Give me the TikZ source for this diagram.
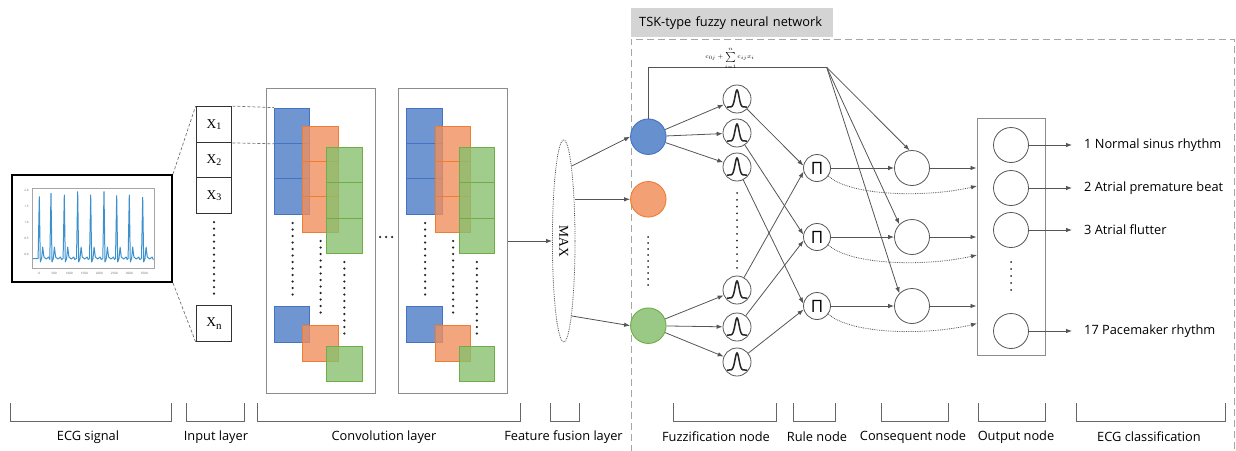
\documentclass[tikz,border=0pt]{standalone}
\usepackage{fontspec}
\setmainfont{Open Sans}
\newfontfamily\serifX{Liberation Serif}
\usetikzlibrary{arrows.meta,shapes.geometric}
\definecolor{blueF}{RGB}{76,124,199}
\definecolor{blueE}{RGB}{68,114,196}
\definecolor{oranF}{RGB}{240,143,92}
\definecolor{oranE}{RGB}{237,125,49}
\definecolor{greenF}{RGB}{136,192,111}
\definecolor{greenE}{RGB}{112,173,71}
\definecolor{lineG}{RGB}{85,85,85}
\definecolor{frameG}{RGB}{140,140,140}
\definecolor{ecgB}{RGB}{60,145,205}
\definecolor{titleG}{RGB}{212,212,212}
\begin{document}
\begin{tikzpicture}[x=1pt,y=-1pt,
  arr/.style={-{Latex[length=6pt,width=4.5pt]}, draw=lineG, line width=0.8pt},
  darr/.style={-{Latex[length=6pt,width=4.5pt]}, draw=lineG, line width=0.8pt, densely dotted},
  cellB/.style={rectangle, draw=blueE, fill=blueF, fill opacity=0.8, line width=0.9pt, minimum size=35.3pt, inner sep=0pt},
  cellO/.style={rectangle, draw=oranE, fill=oranF, fill opacity=0.8, line width=0.9pt, minimum size=35.3pt, inner sep=0pt},
  cellG/.style={rectangle, draw=greenE, fill=greenF, fill opacity=0.8, line width=0.9pt, minimum size=35.3pt, inner sep=0pt},
  inbox/.style={rectangle, draw=black!80, line width=1.3pt, minimum size=35.5pt, inner sep=0pt, font=\serifX\fontsize{13.5}{13.5}\selectfont},
  convbox/.style={rectangle, draw=frameG, line width=1pt, minimum width=109pt, minimum height=305pt, inner sep=0pt},
  dotcol/.style={line width=2.5pt, line cap=round, dash pattern=on 0pt off 6.5pt, black!85},
  fz/.style={circle, draw=lineG, line width=0.8pt, fill=white, minimum size=28pt, inner sep=0pt,
    path picture={\draw[line width=1.5pt, black!85, shift={(path picture bounding box.center)}]
      plot[domain=-10:10, samples=51, smooth] (\x, {8-17*exp(-\x*\x/8)});}},
  rl/.style={circle, draw=lineG, line width=0.8pt, fill=white, minimum size=27pt, inner sep=0pt, font=\fontsize{17}{17}\selectfont},
  cq/.style={circle, draw=lineG, line width=0.8pt, fill=white, minimum size=35pt, inner sep=0pt},
  fnc/.style={circle, line width=0.9pt, minimum size=35.5pt, inner sep=0pt},
  brk/.style={draw=black!60, line width=0.8pt},
  blab/.style={font=\fontsize{12.8}{14}\selectfont, inner sep=0pt},
  rlab/.style={font=\fontsize{12.8}{14}\selectfont, inner sep=0pt, anchor=west},
  tick/.style={font=\fontsize{3}{3}\selectfont, text=black!60, inner sep=0pt}
]
\useasboundingbox (0,0) rectangle (1236,450);

% ---------------- ECG signal ----------------
\node[rectangle, draw=black, line width=2pt, minimum width=160pt, minimum height=107pt, inner sep=0pt] (ecg) at (92,228.5) {};
\draw[black!35, line width=0.4pt] (31.7,188.3) rectangle (154,268.3);
\foreach \v/\yy [count=\i] in {2.0/190.7,1.5/206.7,1.0/222.3,0.5/238.3,0.0/254.3}
  \node[tick] (yt\i) at (26.5,\yy) {\v};
\foreach \v [count=\i] in {0,500,1000,1500,2000,2500,3000,3500}
  \node[tick] (xt\i) at ({39.3+(\i-1)*15},273.5) {\v};
\draw[ecgB, line width=1pt, line join=round] (33,258.5)
  \foreach \sx/\sy in {39.3/196.7, 51/193.3, 64.3/195, 77.7/191.7, 90.7/195, 104/191.7, 116.7/195.7, 129.3/195, 142.7/197.3}
  { -- ({\sx-1.2},258.5) -- (\sx,\sy) -- ({\sx+1},262) -- ({\sx+2.3},258.5) -- ({\sx+3.4},247) -- ({\sx+4.6},257) -- ({\sx+7},259) -- ({\sx+9.5},257) -- ({\sx+10.5},259.5) }
  -- (153.5,259.5);

% ---------------- Input layer ----------------
\node[inbox] (x1) at (214,124.5) {X\raisebox{-1.5pt}{\fontsize{10}{10}\selectfont 1}};
\node[inbox] (x2) at (214,160) {X\raisebox{-1.5pt}{\fontsize{10}{10}\selectfont 2}};
\node[inbox] (x3) at (214,195.5) {X\raisebox{-1.5pt}{\fontsize{10}{10}\selectfont 3}};
\node[inbox] (xn) at (214,323.5) {X\raisebox{-3pt}{\fontsize{11}{11}\selectfont n}};
\draw[dotcol] (214,222) -- (214,298);
\draw[black!55, line width=0.7pt, densely dashed] (ecg.north east) -- (x1.north west);
\draw[black!55, line width=0.7pt, densely dashed] (ecg.south east) -- (xn.south west);

% ---------------- Convolution layer ----------------
\node[convbox] (conv1) at (320.5,240.5) {};
\node[convbox] (conv2) at (452.5,240.5) {};
\foreach \k/\dx in {1/0,2/132.5}{
  \node[cellB] (b\k a) at ({292+\dx},125.7) {};
  \node[cellB] (b\k b) at ({292+\dx},161) {};
  \node[cellB] (b\k c) at ({292+\dx},196.3) {};
  \node[cellO] (o\k a) at ({320.5+\dx},143.7) {};
  \node[cellO] (o\k b) at ({320.5+\dx},179) {};
  \node[cellO] (o\k c) at ({320.5+\dx},214.3) {};
  \node[cellG] (g\k a) at ({344.3+\dx},165) {};
  \node[cellG] (g\k b) at ({344.3+\dx},200.3) {};
  \node[cellG] (g\k c) at ({344.3+\dx},235.6) {};
  \node[cellB] (b\k z) at ({292+\dx},324.5) {};
  \node[cellO] (o\k z) at ({320.5+\dx},343.5) {};
  \node[cellG] (g\k z) at ({344.3+\dx},364) {};
  \draw[dotcol] ({292.7+\dx},223) -- ({292.7+\dx},297.5);
  \draw[dotcol] ({320.7+\dx},241) -- ({320.7+\dx},317);
  \draw[dotcol] ({344.3+\dx},262) -- ({344.3+\dx},337);
}
\draw[dotcol, dash pattern=on 0pt off 6pt] (380,237) -- (392,237);
\draw[black!55, line width=0.7pt, densely dashed] (x1.north east) -- (b1a.north west);
\draw[black!55, line width=0.7pt, densely dashed] (x1.south east) -- (b1a.south west);

% ---------------- Feature fusion (MAX) ----------------
\node[ellipse, draw=black!70, densely dotted, line width=0.8pt, minimum width=22.6pt, minimum height=202pt, inner sep=0pt] (max) at (563.7,241) {};
\node[rotate=-90, font=\serifX\fontsize{13.5}{13.5}\selectfont, inner sep=0pt] (maxt) at (max.center) {MAX};
\draw[arr] (conv2.east |- max.west) -- (max.west);

% ---------------- TSK frame ----------------
\draw[gray!70, line width=0.9pt, dash pattern=on 7pt off 4pt] (631,452) -- (631,39) -- (1234,39) -- (1234,452);
\node[fill=titleG, anchor=north west, minimum width=202pt, minimum height=29pt, inner xsep=8pt, inner ysep=0pt, text width=186pt, align=left, font=\fontsize{12.8}{14}\selectfont] (title) at (631,8) {TSK-type fuzzy neural network};

% ---------------- Input circles ----------------
\node[fnc, draw=blueE, fill=blueF!85!white] (cb) at (648.3,136.7) {};
\node[fnc, draw=oranE, fill=oranF!85!white] (co) at (648.3,199.3) {};
\node[fnc, draw=greenE, fill=greenF!85!white] (cg) at (648.3,325.7) {};
\draw[dotcol, line width=2pt, dash pattern=on 0pt off 6pt] (648,237) -- (648,290);
\draw[arr] (max.84) -- (cb.west);
\draw[arr] (max.east |- co.west) -- (co.west);
\draw[arr] (max.-84) -- (cg.west);

% ---------------- Fuzzification nodes ----------------
\node[fz] (f1) at (737,99) {};
\node[fz] (f2) at (737,133) {};
\node[fz] (f3) at (737,167) {};
\node[fz] (f4) at (737,290) {};
\node[fz] (f5) at (737,327) {};
\node[fz] (f6) at (737,362) {};
\draw[dotcol, line width=2pt, dash pattern=on 0pt off 6.8pt] (737,193) -- (737,268);
\foreach \f in {f1,f2,f3} \draw[arr] (cb) -- (\f);
\foreach \f in {f4,f5,f6} \draw[arr] (cg) -- (\f);

% ---------------- Rule nodes ----------------
\node[rl] (r1) at (817,168) {Π};
\node[rl] (r2) at (817,237) {Π};
\node[rl] (r3) at (817,306) {Π};
\draw[arr] (f1) -- (r1.170);
\draw[arr] (f2) -- (r2.170);
\draw[arr] (f3) -- (r3.170);
\draw[arr] (f4) -- (r1.195);
\draw[arr] (f5) -- (r2.195);
\draw[arr] (f6) -- (r3.195);

% ---------------- Consequent nodes ----------------
\node[cq] (c1) at (912,168) {};
\node[cq] (c2) at (912,237) {};
\node[cq] (c3) at (912,306) {};
\coordinate (apex) at (826.7,67.3);
\draw[lineG, line width=0.8pt] (cb.north) |- (apex);
\node[font=\fontsize{6}{6}\selectfont, inner sep=0pt] (form) at (730,58) {$c_{0j}+\sum\limits_{i=1}^{n}c_{ij}x_i$};
\draw[arr] (apex) -- (c1.98);
\draw[arr] (apex) -- (c2.north west);
\draw[arr] (apex) -- (c3.north west);
\draw[arr] (r1) -- (c1);
\draw[arr] (r2) -- (c2);
\draw[arr] (r3) -- (c3);

% ---------------- Output nodes ----------------
\node[rectangle, draw=frameG, line width=1pt, minimum width=68pt, minimum height=237pt, inner sep=0pt] (outbox) at (1011,236.5) {};
\node[cq] (o1) at (1011,145) {};
\node[cq] (o2) at (1011,188) {};
\node[cq] (o3) at (1011,230) {};
\node[cq] (o4) at (1011,331) {};
\draw[dotcol, line width=2pt, dash pattern=on 0pt off 7pt] (1011,262) -- (1011,297);
\foreach \c in {c1,c2,c3} \draw[arr] (\c) -- (\c -| outbox.west);
\coordinate (d1) at (977,186);
\coordinate (d2) at (977,255);
\coordinate (d3) at (977,323.5);
\draw[darr] (r1.-35) .. controls (850,196) and (925,198) .. (d1);
\draw[darr] (r2.-35) .. controls (850,265) and (925,267) .. (d2);
\draw[darr] (r3.-35) .. controls (850,334) and (925,336) .. (d3);

% ---------------- Classification labels ----------------
\node[rlab] (l1) at (1084,145) {1 Normal sinus rhythm};
\node[rlab] (l2) at (1084,188) {2 Atrial premature beat};
\node[rlab] (l3) at (1084,230) {3 Atrial flutter};
\node[rlab] (l4) at (1084,331) {17 Pacemaker rhythm};
\foreach \o/\l in {o1/l1,o2/l2,o3/l3,o4/l4} \draw[arr, shorten >=12pt] (\o) -- (\l);

% ---------------- Bottom brackets ----------------
\foreach \a/\b/\c/\t [count=\i] in {10/171/88/ECG signal, 186/244/216/Input layer, 257/520/384/Convolution layer, 550/579/563.5/Feature fusion layer, 673/776/716/Fuzzification node, 793/835/817/Rule node, 881/948/913/Consequent node, 978/1045/1016/Output node, 1076/1225/1149/ECG classification}{
  \draw[brk] (\a,403) -- (\a,421) -- (\b,421) -- (\b,403);
  \node[blab] (lab\i) at (\c,437) {\t};
}
\end{tikzpicture}
\end{document}
